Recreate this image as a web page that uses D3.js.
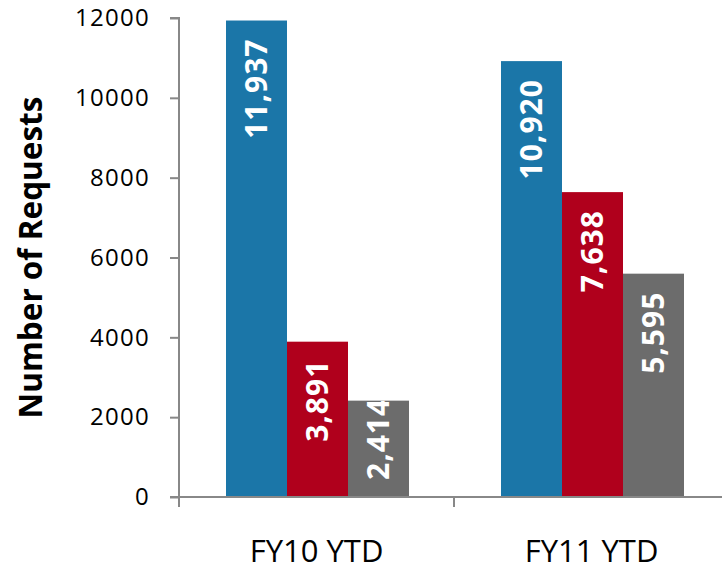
<!DOCTYPE html>
<html>
<head>
<meta charset="utf-8">
<script src="https://cdn.jsdelivr.net/npm/d3@7"></script>
<style>
  body { margin: 0; background: #fff; }
  text { font-family: "Open Sans", "DejaVu Sans", sans-serif; }
</style>
</head>
<body>
<div id="chart"></div>
<script>
// Data
var categories = ["FY10 YTD", "FY11 YTD"];
var seriesNames = ["Requests A", "Requests B", "Requests C"];
var seriesColors = ["#1b76a8", "#b0001c", "#6c6c6c"];
var values = [
  [11937, 3891, 2414],   // FY10 YTD
  [10920, 7638, 5595]    // FY11 YTD
];
var yTicks = [0, 2000, 4000, 6000, 8000, 10000, 12000];

var svgWidth = 722, svgHeight = 571;
var margin = { top: 18, right: -7, bottom: 74, left: 179 };
var chartWidth = svgWidth - margin.left - margin.right;
var chartHeight = svgHeight - margin.top - margin.bottom;

var svg = d3.select("#chart").append("svg")
  .attr("width", svgWidth)
  .attr("height", svgHeight);

var chartGroup = svg.append("g")
  .attr("transform", `translate(${margin.left}, ${margin.top})`);

var x0 = d3.scaleBand().domain(categories).range([0, chartWidth]);
var x1 = d3.scaleBand().domain(d3.range(seriesNames.length))
  .range([47, x0.bandwidth() - 45]);
var y = d3.scaleLinear().domain([0, 12000]).range([chartHeight, 0]);

var fmt = d3.format(",");

// bars
var groups = chartGroup.selectAll("g.cat")
  .data(categories)
  .enter().append("g")
  .attr("class", "cat")
  .attr("transform", d => `translate(${x0(d)},0)`);

var bars = groups.selectAll("g.bar")
  .data((d, i) => values[i].map((v, j) => ({ v: v, j: j, c: i })))
  .enter().append("g")
  .attr("class", "bar");

bars.append("clipPath")
  .attr("id", d => `clip-${d.c}-${d.j}`)
  .append("rect")
  .attr("x", d => x1(d.j))
  .attr("y", d => y(d.v))
  .attr("width", x1.bandwidth())
  .attr("height", d => chartHeight - y(d.v));

bars.append("rect")
  .attr("x", d => x1(d.j))
  .attr("y", d => y(d.v))
  .attr("width", x1.bandwidth())
  .attr("height", d => chartHeight - y(d.v))
  .attr("fill", d => seriesColors[d.j]);

// value labels, rotated inside bars (clipped to the bar)
bars.append("g")
  .attr("clip-path", d => `url(#clip-${d.c}-${d.j})`)
  .append("text")
  .attr("fill", "#fff")
  .attr("font-weight", "bold")
  .attr("font-size", "30px")
  .attr("letter-spacing", "1px")
  .text(d => fmt(d.v))
  .each(function(d) {
    var t = d3.select(this);
    var len = this.getComputedTextLength();
    var cx = x1(d.j) + x1.bandwidth() / 2;
    var h = chartHeight - y(d.v);
    var pos, anchor;
    if (len + 36 <= h) {
      pos = y(d.v) + 18; anchor = "end";
    } else {
      pos = chartHeight - 17; anchor = "start";
    }
    t.attr("text-anchor", anchor)
      .attr("dy", "0.35em")
      .attr("transform", `translate(${cx},${pos}) rotate(-90)`);
  });

// axes
var axisColor = "#888888";

var leftAxis = d3.axisLeft(y).tickValues(yTicks).tickSize(9).tickPadding(20)
  .tickFormat(d3.format("d"));
var yAxisG = chartGroup.append("g").call(leftAxis);
yAxisG.select(".domain").attr("stroke", axisColor).attr("stroke-width", 2)
  .attr("d", `M-9,0H0V${chartHeight}H-9`);
yAxisG.selectAll(".tick line").attr("stroke", axisColor).attr("stroke-width", 2);
yAxisG.selectAll(".tick text").attr("font-size", "24px").attr("fill", "#000")
  .attr("letter-spacing", "1.3px");

var bottomAxis = d3.axisBottom(x0).tickSize(0);
var xAxisG = chartGroup.append("g")
  .attr("transform", `translate(0,${chartHeight})`)
  .call(bottomAxis);
xAxisG.select(".domain").attr("stroke", axisColor).attr("stroke-width", 2)
  .attr("d", `M0,0H${chartWidth}`);
xAxisG.selectAll(".tick text")
  .attr("font-size", "31px").attr("fill", "#000")
  .attr("dy", null).attr("y", 65);

// category boundary ticks
chartGroup.append("g").selectAll("line")
  .data(categories.map(c => x0(c)).concat([chartWidth]))
  .enter().append("line")
  .attr("x1", d => d).attr("x2", d => d)
  .attr("y1", chartHeight).attr("y2", chartHeight + 10)
  .attr("stroke", axisColor).attr("stroke-width", 2);

// y axis title
svg.append("text")
  .attr("transform", `translate(42, ${margin.top + chartHeight / 2}) rotate(-90)`)
  .attr("text-anchor", "middle")
  .attr("font-size", "31.5px")
  .attr("font-weight", "bold")
  .text("Number of Requests");
</script>
</body>
</html>
